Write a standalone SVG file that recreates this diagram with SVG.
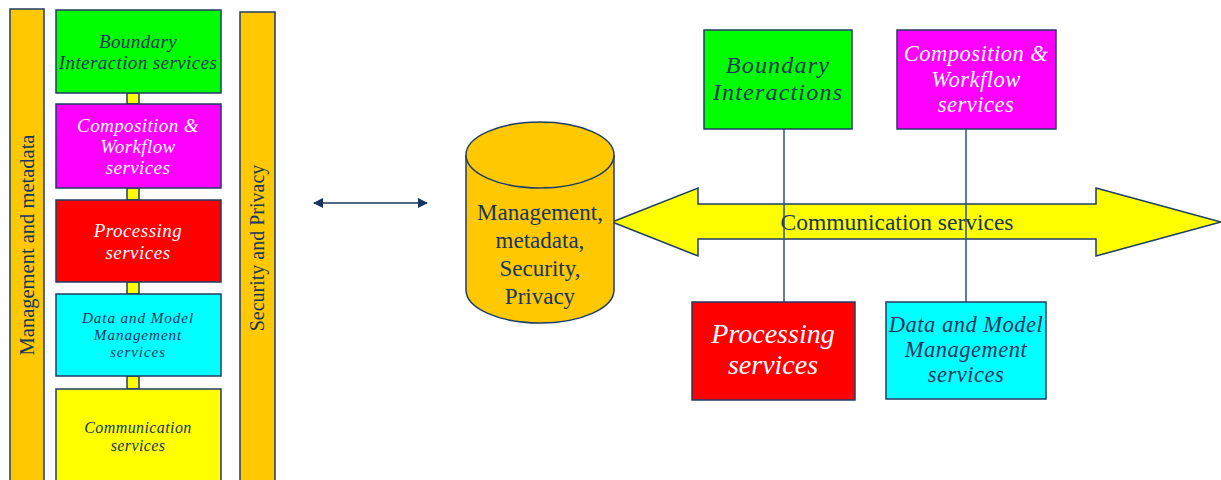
<svg xmlns="http://www.w3.org/2000/svg" width="1221" height="480" viewBox="0 0 1221 480">
<defs>
<style>
.s{stroke:#1F3D64;stroke-width:1.5}
.t{font-family:"Liberation Serif","Times New Roman",serif;fill:#17365D;text-anchor:middle}
.i{font-style:italic}
.w{fill:#FFFFFF}
.ln{stroke:#2E5286;stroke-width:1.5;fill:none}
</style>
<marker id="ah" viewBox="0 0 10 10" refX="9" refY="5" markerWidth="10" markerHeight="10" markerUnits="userSpaceOnUse" orient="auto-start-reverse">
<path d="M0,0 L10,5 L0,10 Z" fill="#17365D"/>
</marker>
</defs>
<rect width="1221" height="480" fill="#FFFFFF"/>

<g id="left-stack">
<g id="bar-management">
<rect class="s" x="10" y="9" width="34" height="480" fill="#FFC800"/>
<text class="t" font-size="20.5" transform="translate(34,245) rotate(-90)">Management and metadata</text>
</g>
<g id="bar-security">
<rect class="s" x="240" y="12" width="35" height="480" fill="#FFC800"/>
<text class="t" font-size="20" transform="translate(264,248) rotate(-90)">Security and Privacy</text>
</g>
<g id="left-links">
<rect class="s" x="127" y="93" width="12" height="11" fill="#FFFF00"/>
<rect class="s" x="127" y="188" width="12" height="12" fill="#FFFF00"/>
<rect class="s" x="127" y="282" width="12" height="12" fill="#FFFF00"/>
<rect class="s" x="127" y="376" width="12" height="13" fill="#FFFF00"/>
</g>
<g id="l-boundary">
<rect class="s" x="56" y="10" width="165" height="83" fill="#00FF00"/>
<text class="t i" font-size="19" letter-spacing="0.4" x="138" y="48">Boundary</text>
<text class="t i" font-size="19" letter-spacing="0.4" x="138" y="69">Interaction services</text>
</g>
<g id="l-composition">
<rect class="s" x="56" y="104" width="165" height="84" fill="#FF00FF"/>
<text class="t i w" font-size="19" letter-spacing="0.4" x="138" y="132">Composition &amp;</text>
<text class="t i w" font-size="19" letter-spacing="0.4" x="138" y="153">Workflow</text>
<text class="t i w" font-size="19" letter-spacing="0.4" x="138" y="174">services</text>
</g>
<g id="l-processing">
<rect class="s" x="56" y="200" width="165" height="82" fill="#FF0000"/>
<text class="t i w" font-size="19" letter-spacing="0.5" x="138" y="237">Processing</text>
<text class="t i w" font-size="19" letter-spacing="0.5" x="138" y="259">services</text>
</g>
<g id="l-data">
<rect class="s" x="56" y="294" width="165" height="82" fill="#00FFFF"/>
<text class="t i" font-size="15.2" letter-spacing="0.9" x="138" y="323">Data and Model</text>
<text class="t i" font-size="15.2" letter-spacing="0.9" x="138" y="340">Management</text>
<text class="t i" font-size="15.2" letter-spacing="0.9" x="138" y="357">services</text>
</g>
<g id="l-communication">
<rect class="s" x="56" y="389" width="165" height="100" fill="#FFFF00"/>
<text class="t i" font-size="16" letter-spacing="0.4" x="138" y="433">Communication</text>
<text class="t i" font-size="16" letter-spacing="0.4" x="138" y="451">services</text>
</g>
</g>

<g id="comm-arrow">
<path class="s" d="M612,222 L698,188 L698,204 L1096,204 L1096,188 L1221,222 L1096,256 L1096,239 L698,239 L698,256 Z" fill="#FFFF00"/>
<text class="t" font-size="23.5" x="897" y="230">Communication services</text>
</g>

<g id="connectors">
<line x1="314" y1="203" x2="427" y2="203" stroke="#17365D" stroke-width="1.5" marker-start="url(#ah)" marker-end="url(#ah)"/>
<line class="ln" x1="784" y1="129" x2="784" y2="302"/>
<line class="ln" x1="966" y1="129" x2="966" y2="302"/>
</g>

<g id="cylinder">
<path class="s" d="M466,155 L466,290 A74,33 0 0 0 614,290 L614,155" fill="#FFC800"/>
<ellipse class="s" cx="540" cy="155" rx="74" ry="33" fill="#FFC800"/>
<text class="t" font-size="23" x="540" y="220">Management,</text>
<text class="t" font-size="23" x="540" y="248">metadata,</text>
<text class="t" font-size="23" x="540" y="276">Security,</text>
<text class="t" font-size="23" x="540" y="304">Privacy</text>
</g>

<g id="r-boundary">
<rect class="s" x="704" y="30" width="148" height="99" fill="#00FF00"/>
<text class="t i" font-size="24" letter-spacing="1.2" x="778" y="73">Boundary</text>
<text class="t i" font-size="24" letter-spacing="1.2" x="778" y="100">Interactions</text>
</g>
<g id="r-composition">
<rect class="s" x="897" y="30" width="159" height="99" fill="#FF00FF"/>
<text class="t i w" font-size="22.5" letter-spacing="0.5" x="976" y="61">Composition &amp;</text>
<text class="t i w" font-size="22.5" letter-spacing="0.5" x="976" y="87">Workflow</text>
<text class="t i w" font-size="22.5" letter-spacing="0.5" x="976" y="112">services</text>
</g>
<g id="r-processing">
<rect class="s" x="692" y="302" width="163" height="98" fill="#FF0000"/>
<text class="t i w" font-size="28" x="773" y="343">Processing</text>
<text class="t i w" font-size="28" x="773" y="374">services</text>
</g>
<g id="r-data">
<rect class="s" x="886" y="302" width="160" height="97" fill="#00FFFF"/>
<text class="t i" font-size="22.5" letter-spacing="0.5" x="966" y="332">Data and Model</text>
<text class="t i" font-size="22.5" letter-spacing="0.5" x="966" y="357">Management</text>
<text class="t i" font-size="22.5" letter-spacing="0.5" x="966" y="382">services</text>
</g>
</svg>
